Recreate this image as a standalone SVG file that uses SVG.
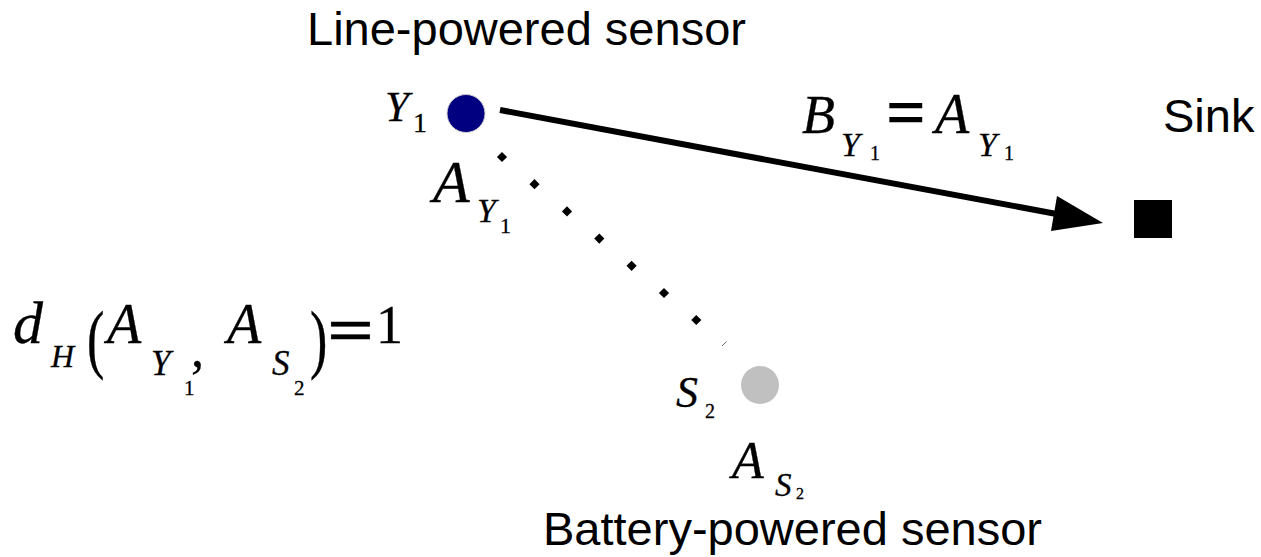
<svg xmlns="http://www.w3.org/2000/svg" width="1261" height="557" viewBox="0 0 1261 557">
  <style>
    .sans { font-family: "Liberation Sans", Arial, sans-serif; font-size: 47px; fill: #000; }
    .mi { font-family: "Liberation Serif", "Times New Roman", serif; font-style: italic; fill: #000; stroke: #000; stroke-width: 0.3px; }
    .mn { font-family: "Liberation Serif", "Times New Roman", serif; fill: #000; stroke: #000; stroke-width: 0.3px; }
    .dot { fill: #000; }
  </style>
  <defs>
    <rect id="diamond" x="-3.6" y="-3.6" width="7.2" height="7.2" transform="rotate(45)" class="dot"/>
  </defs>
  <rect width="1261" height="557" fill="#fff"/>

  <g id="connectors">
    <line x1="500" y1="110" x2="1062" y2="215" stroke="#000" stroke-width="6"/>
    <polygon points="1103,223 1057,196 1051,231" fill="#000"/>
    <g id="dotted-link">
      <use href="#diamond" x="502" y="157"/>
      <use href="#diamond" x="534.5" y="184.2"/>
      <use href="#diamond" x="567" y="211.4"/>
      <use href="#diamond" x="599.3" y="238.6"/>
      <use href="#diamond" x="631.6" y="265.8"/>
      <use href="#diamond" x="664" y="293"/>
      <use href="#diamond" x="696.3" y="320"/>
      <line x1="722" y1="346" x2="726.5" y2="341.5" stroke="#666" stroke-width="1"/>
    </g>
  </g>

  <g id="node-Y1">
    <circle cx="466" cy="113.5" r="19" fill="#000080" stroke="#cccccc" stroke-width="1"/>
    <text class="sans" x="307" y="45">Line-powered sensor</text>
    <text class="mi" x="385" y="121" font-size="43">Y</text>
    <text class="mn" x="413" y="132" font-size="28">1</text>
    <text class="mi" x="433" y="202" font-size="60">A</text>
    <text class="mi" x="477" y="222" font-size="34">Y</text>
    <text class="mn" x="500" y="233" font-size="22">1</text>
  </g>

  <g id="node-S2">
    <circle cx="760" cy="385" r="19" fill="#c0c0c0"/>
    <text class="mi" x="676" y="407" font-size="44">S</text>
    <text class="mn" x="705" y="418" font-size="20">2</text>
    <text class="mi" x="732" y="478" font-size="52">A</text>
    <text class="mi" x="775" y="496" font-size="33">S</text>
    <text class="mn" x="796" y="499" font-size="16">2</text>
    <text class="sans" x="543" y="545" font-size="46">Battery-powered sensor</text>
  </g>

  <g id="node-sink">
    <rect x="1134" y="200" width="38" height="38" fill="#000"/>
    <text class="sans" x="1163" y="132">Sink</text>
  </g>

  <g id="label-B">
    <text class="mi" x="802" y="133" font-size="54">B</text>
    <text class="mi" x="841" y="156" font-size="34">Y</text>
    <text class="mn" x="870" y="160" font-size="20">1</text>
    <text class="mn" x="886" y="136" font-size="70" font-weight="bold">=</text>
    <text class="mi" x="935" y="133" font-size="56">A</text>
    <text class="mi" x="978" y="156" font-size="34">Y</text>
    <text class="mn" x="1004" y="160" font-size="20">1</text>
  </g>

  <g id="label-dH">
    <text class="mi" x="13" y="343" font-size="60">d</text>
    <text class="mi" x="51" y="367" font-size="32">H</text>
    <text class="mn" transform="translate(87,364) scale(1,1.45)" font-size="52">(</text>
    <text class="mi" x="107" y="343" font-size="56">A</text>
    <text class="mi" x="151" y="375" font-size="35">Y</text>
    <text class="mn" x="184" y="395" font-size="21">1</text>
    <text class="mn" x="191" y="366" font-size="52">,</text>
    <text class="mi" x="227" y="343" font-size="56">A</text>
    <text class="mi" x="272" y="375" font-size="35">S</text>
    <text class="mn" x="294" y="395" font-size="21">2</text>
    <text class="mn" transform="translate(310,364) scale(1,1.45)" font-size="52">)</text>
    <text class="mn" transform="translate(327,352) scale(1.3,1)" font-size="64" font-weight="bold">=</text>
    <text class="mn" x="376" y="343" font-size="54">1</text>
  </g>
</svg>
